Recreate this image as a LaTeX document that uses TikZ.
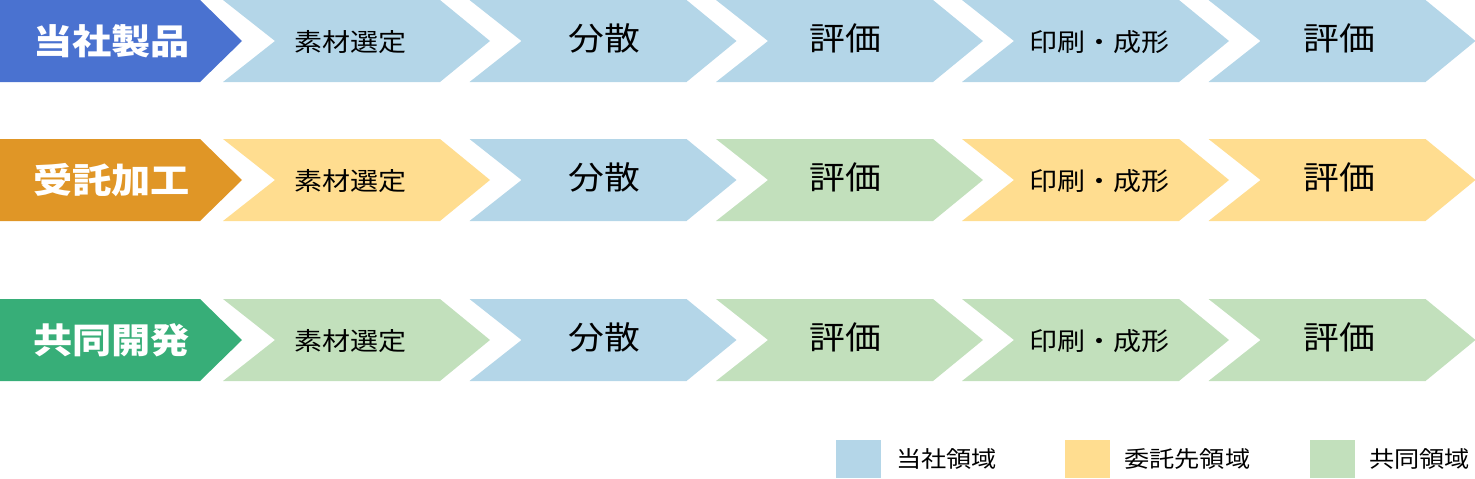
\documentclass[tikz,border=0pt]{standalone}
\usepackage{fontspec}
\setmainfont{Noto Sans CJK JP}[FakeStretch=1.12]
\definecolor{dblue}{RGB}{74,114,208}
\definecolor{dorange}{RGB}{224,150,38}
\definecolor{dgreen}{RGB}{55,174,120}
\definecolor{lblue}{RGB}{180,214,232}
\definecolor{lyellow}{RGB}{255,221,144}
\definecolor{lgreen}{RGB}{194,224,188}
\tikzset{
  small/.style={font=\fontsize{25}{25}\selectfont, text=black, inner sep=0pt, yshift=-1pt},
  big/.style={font=\fontsize{32}{32}\selectfont, text=black, inner sep=0pt, yshift=3pt},
  head/.style={font=\bfseries\fontsize{35}{35}\selectfont, text=white, inner sep=0pt},
  legtext/.style={font=\fontsize{22.5}{22.5}\selectfont, text=black, anchor=west, inner sep=0pt},
  legbox/.style={minimum width=45pt, minimum height=38pt, inner sep=0pt, draw=none},
}
% #1 left x, #2 top y, #3 colour, #4 name, #5 text, #6 style, #7 text offset
\newcommand\mychev[7]{%
  \fill[#3] (#1,#2) -- ++(217,0) -- ++(50,41) -- ++(-50,41) -- ++(-217,0) -- ++(52,-41) -- cycle;
  \node[#6] (#4) at (#1+#7,#2+41) {#5};
}
% #1 top y, #2 colour, #3 name, #4 text
\newcommand\myhead[4]{%
  \fill[#2] (0,#1) -- (200,#1) -- (242,#1+41) -- (200,#1+82) -- (0,#1+82) -- cycle;
  \node[head] (#3) at (111.5,#1+41.5) {#4};
}
\begin{document}
\begin{tikzpicture}[x=1pt,y=-1pt]
\useasboundingbox (0,0) rectangle (1475,479);
% row 1
\myhead{0}{dblue}{h1}{当社製品}
\mychev{223}{0}{lblue}{a1}{素材選定}{small}{127}
\mychev{469.5}{0}{lblue}{a2}{分散}{big}{135}
\mychev{716}{0}{lblue}{a3}{評価}{big}{129}
\mychev{962}{0}{lblue}{a4}{印刷・成形}{small}{137}
\mychev{1208.5}{0}{lblue}{a5}{評価}{big}{130.5}
% row 2
\myhead{139}{dorange}{h2}{受託加工}
\mychev{223}{139}{lyellow}{b1}{素材選定}{small}{127}
\mychev{469.5}{139}{lblue}{b2}{分散}{big}{135}
\mychev{716}{139}{lgreen}{b3}{評価}{big}{129}
\mychev{962}{139}{lyellow}{b4}{印刷・成形}{small}{137}
\mychev{1208.5}{139}{lyellow}{b5}{評価}{big}{130.5}
% row 3
\myhead{299}{dgreen}{h3}{共同開発}
\mychev{223}{299}{lgreen}{c1}{素材選定}{small}{127}
\mychev{469.5}{299}{lblue}{c2}{分散}{big}{135}
\mychev{716}{299}{lgreen}{c3}{評価}{big}{129}
\mychev{962}{299}{lgreen}{c4}{印刷・成形}{small}{137}
\mychev{1208.5}{299}{lgreen}{c5}{評価}{big}{130.5}
% legend
\node[legbox, fill=lblue] (k1) at (858.5,459) {};
\node[legtext] (t1) at (896,459) {当社領域};
\node[legbox, fill=lyellow] (k2) at (1087.5,459) {};
\node[legtext] (t2) at (1124,459) {委託先領域};
\node[legbox, fill=lgreen] (k3) at (1332.5,459) {};
\node[legtext] (t3) at (1369,459) {共同領域};
\end{tikzpicture}
\end{document}
